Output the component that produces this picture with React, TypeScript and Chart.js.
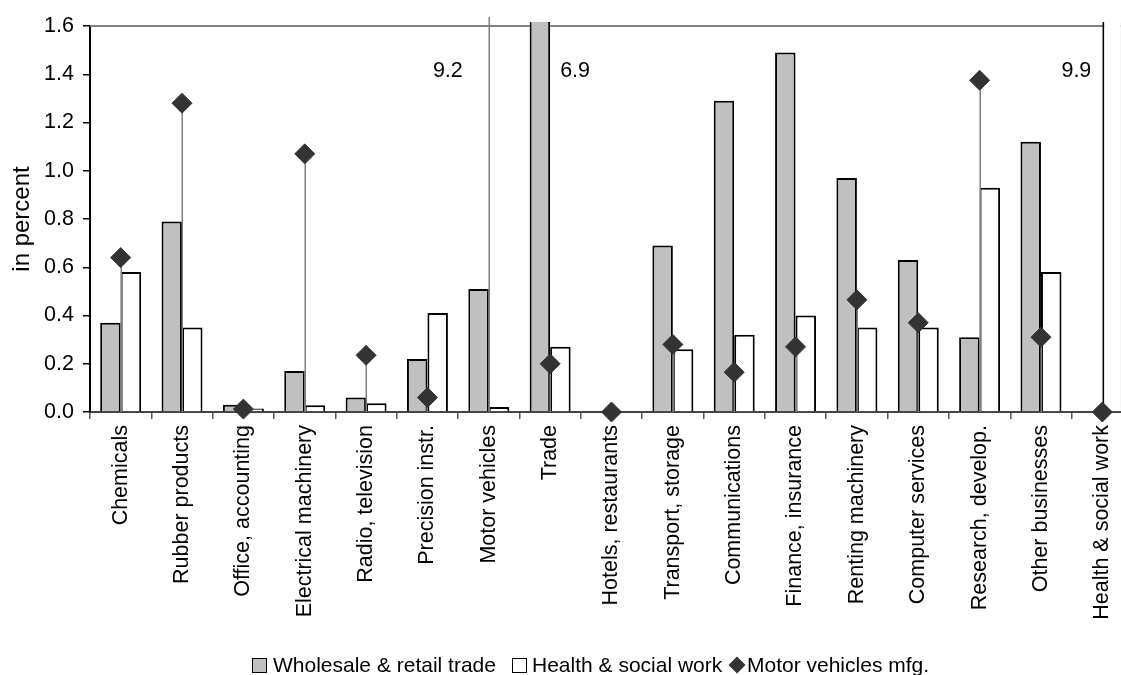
import React, { useEffect, useRef } from "react";
import { Chart, registerables } from "chart.js";

Chart.register(...registerables);

const categories = [
  "Chemicals",
  "Rubber products",
  "Office, accounting",
  "Electrical machinery",
  "Radio, television",
  "Precision instr.",
  "Motor vehicles",
  "Trade",
  "Hotels, restaurants",
  "Transport, storage",
  "Communications",
  "Finance, insurance",
  "Renting machinery",
  "Computer services",
  "Research, develop.",
  "Other businesses",
  "Health & social work",
];

const seriesNames = ["Wholesale & retail trade", "Health & social work", "Motor vehicles mfg."];

const wholesaleRetail = [0.37, 0.79, 0.03, 0.17, 0.06, 0.22, 0.51, 6.9, 0, 0.69, 1.29, 1.49, 0.97, 0.63, 0.31, 1.12, 0];
const healthSocial = [0.58, 0.35, 0.015, 0.028, 0.036, 0.41, 0.021, 0.27, 0, 0.26, 0.32, 0.4, 0.35, 0.35, 0.93, 0.58, 9.9];
const motorVehicles = [0.64, 1.28, 0.012, 1.07, 0.235, 0.06, 9.2, 0.2, 0, 0.28, 0.165, 0.27, 0.465, 0.37, 1.375, 0.31, 0];

const yTicks = [0, 0.2, 0.4, 0.6, 0.8, 1.0, 1.2, 1.4, 1.6];
const yTitle = "in percent";

const FONT = '"Liberation Sans", Arial, Helvetica, sans-serif';
const FS = 21.5;
const LEGEND_FS = 21;

const framePlugin = {
  id: "frame",
  beforeDatasetsDraw(chart: any) {
    const { ctx, chartArea } = chart;
    ctx.save();
    ctx.strokeStyle = "#808080";
    ctx.lineWidth = 2;
    ctx.beginPath();
    ctx.moveTo(chartArea.left, chartArea.top);
    ctx.lineTo(chartArea.right, chartArea.top);
    ctx.stroke();
    ctx.restore();
  },
  beforeDatasetDraw(chart: any, args: any) {
    if (args.meta.type !== "line") return;
    const { ctx, chartArea } = chart;
    const yScale = chart.scales.y;
    const y0 = yScale.getPixelForValue(0);
    ctx.save();
    ctx.strokeStyle = "#808080";
    ctx.lineWidth = 1.5;
    args.meta.data.forEach((pt: any, i: number) => {
      const v = chart.data.datasets[args.index].data[i];
      if (!(v > 0)) return;
      const y = Math.max(pt.y, chartArea.top - 9);
      const x = Math.round(pt.x) + 0.25;
      ctx.beginPath();
      ctx.moveTo(x, y);
      ctx.lineTo(x, y0);
      ctx.stroke();
    });
    ctx.restore();
  },
  afterDatasetsDraw(chart: any) {
    const { ctx, chartArea } = chart;
    const yMax = chart.scales.y.max;
    ctx.save();
    ctx.font = `${FS}px ${FONT}`;
    ctx.fillStyle = "#000";
    ctx.textBaseline = "middle";
    const ty = chartArea.top + 45;
    chart.data.datasets.forEach((ds: any, di: number) => {
      const meta = chart.getDatasetMeta(di);
      ds.data.forEach((v: number, i: number) => {
        if (v <= yMax) return;
        const el = meta.data[i] as any;
        const txt = v.toFixed(1);
        if (meta.type === "line") {
          ctx.textAlign = "right";
          ctx.fillText(txt, el.x - 26, ty);
        } else if (di === 0) {
          ctx.textAlign = "left";
          ctx.fillText(txt, el.x + el.width / 2 + 10, ty);
        } else {
          ctx.textAlign = "right";
          ctx.fillText(txt, el.x - el.width / 2 - 11, ty);
        }
      });
    });
    ctx.restore();
  },
};

export default function App() {
  const ref = useRef<HTMLCanvasElement>(null);

  useEffect(() => {
    if (!ref.current) return;
    Chart.defaults.font.family = FONT;
    Chart.defaults.color = "#000";
    const barClip = { left: 5, top: 4, right: 5, bottom: 5 };
    const chart = new Chart(ref.current, {
      type: "bar",
      data: {
        labels: categories,
        datasets: [
          {
            type: "bar",
            label: seriesNames[0],
            data: wholesaleRetail,
            backgroundColor: "#C0C0C0",
            borderColor: "#000",
            borderWidth: 2,
            barPercentage: 1,
            categoryPercentage: 0.668,
            clip: barClip as any,
          },
          {
            type: "bar",
            label: seriesNames[1],
            data: healthSocial,
            backgroundColor: "#FFFFFF",
            borderColor: "#000",
            borderWidth: 2,
            barPercentage: 1,
            categoryPercentage: 0.668,
            clip: barClip as any,
          },
          {
            type: "line",
            label: seriesNames[2],
            data: motorVehicles,
            showLine: false,
            pointStyle: "rectRot",
            pointRadius: 10,
            pointHoverRadius: 10,
            pointBackgroundColor: "#333333",
            pointBorderColor: "#333333",
            pointBorderWidth: 1,
            order: -1,
            clip: false as any,
          } as any,
        ],
      },
      options: {
        responsive: false,
        animation: false,
        devicePixelRatio: 1,
        layout: { padding: { top: 26, right: 3, left: 0, bottom: 0 } },
        plugins: {
          legend: { display: false },
          tooltip: { enabled: false },
        },
        scales: {
          x: {
            type: "category",
            offset: true,
            grid: {
              offset: true,
              drawOnChartArea: false,
              drawTicks: true,
              tickLength: 7,
              color: "#555",
              lineWidth: 1.5,
            },
            border: { display: true, color: "#444", width: 2 },
            ticks: {
              minRotation: 90,
              maxRotation: 90,
              autoSkip: false,
              padding: 6,
              color: "#000",
              font: { size: FS, family: FONT },
            },
            afterFit: (s: any) => {
              s.height = 263;
              s.paddingLeft = 0;
              s.paddingRight = 0;
            },
          },
          y: {
            min: 0,
            max: 1.6,
            afterBuildTicks: (s: any) => {
              s.ticks = yTicks.map((v) => ({ value: v }));
            },
            ticks: {
              padding: 9,
              color: "#000",
              font: { size: FS, family: FONT },
              callback: (v: any) => Number(v).toFixed(1),
            },
            grid: {
              drawOnChartArea: false,
              drawTicks: true,
              tickLength: 7,
              color: "#000",
              lineWidth: 1.5,
            },
            border: { display: true, color: "#000", width: 2 },
            title: {
              display: true,
              text: yTitle,
              color: "#000",
              font: { size: 24, family: FONT },
              padding: { top: 8, bottom: 0 },
            },
            afterFit: (s: any) => {
              s.width = 90;
            },
          },
        },
      },
      plugins: [framePlugin],
    });
    return () => chart.destroy();
  }, []);

  const legendText: React.CSSProperties = {
    position: "absolute",
    top: 654,
    font: `${LEGEND_FS}px ${FONT}`,
    lineHeight: "21px",
    color: "#000",
    whiteSpace: "nowrap",
  };
  const boxStyle = (bg: string, left: number): React.CSSProperties => ({
    position: "absolute",
    left,
    top: 658,
    width: 15,
    height: 15,
    boxSizing: "border-box",
    border: "1.5px solid #000",
    background: bg,
  });

  return (
    <div
      style={{
        position: "fixed",
        left: 0,
        top: 0,
        width: 1121,
        height: 675,
        overflow: "hidden",
        background: "#fff",
      }}
    >
      <canvas ref={ref} width={1144} height={675} style={{ display: "block", width: 1144, height: 675 }} />
      <div style={boxStyle("#C0C0C0", 252)} />
      <div style={{ ...legendText, left: 273 }}>{seriesNames[0]}</div>
      <div style={boxStyle("#FFFFFF", 512)} />
      <div style={{ ...legendText, left: 532 }}>{seriesNames[1]}</div>
      <div
        style={{
          position: "absolute",
          left: 730.5,
          top: 659,
          width: 12,
          height: 12,
          background: "#333",
          transform: "rotate(45deg)",
        }}
      />
      <div style={{ ...legendText, left: 747 }}>{seriesNames[2]}</div>
    </div>
  );
}
